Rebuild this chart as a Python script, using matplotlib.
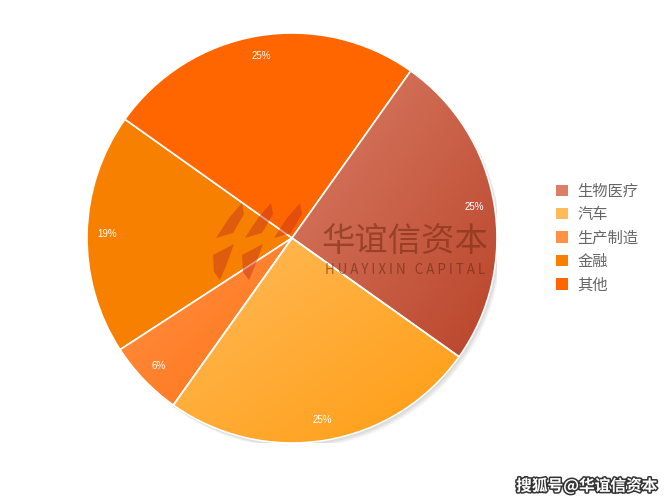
import numpy as np
import matplotlib.pyplot as plt
import matplotlib.colors as mcolors
import matplotlib.patheffects as pe
from matplotlib.patches import Wedge, Polygon

plt.rcParams['font.family'] = ['Noto Sans CJK SC', 'DejaVu Sans']

labels = ['生物医疗', '汽车', '生产制造', '金融', '其他']
shares = [25, 25, 6, 19, 25]
# (light, dark) gradient ends; equal pairs = flat colour
colors = [('#da7e66', '#b9442a'), ('#ffbb5a', '#ff9c12'), ('#ff9247', '#ff7214'),
          ('#f88000', '#f88000'), ('#ff6600', '#ff6600')]

W, H = 670, 503
fig = plt.figure(figsize=(W / 100, H / 100), dpi=100)
cx, cy, r = 292, 238, 205
ax = fig.add_axes([(cx - r) / W, 1 - (cy + r) / H, 2 * r / W, 2 * r / H])

# soft shadow
for k in range(4):
    ax.add_patch(Wedge((0.005 * (k + 1), -0.006 * (k + 1)), 1.0, 0, 360,
                       facecolor='#000000', alpha=0.045, edgecolor='none', zorder=0))

wedges, texts, autotexts = ax.pie(shares, startangle=54.6, counterclock=False,
                                  colors=[c[1] for c in colors], radius=1.0,
                                  autopct='%d%%', pctdistance=0.9,
                                  wedgeprops=dict(edgecolor='white', linewidth=1.2),
                                  textprops=dict(color='white', fontsize=7,
                                                 family='Liberation Sans'))
ax.set_aspect('equal')
ax.axis('off')

grad = np.linspace(0, 1, 200)
gx, gy = np.meshgrid(grad, grad)
g = (gx + gy) / 2
for w, (c1, c2) in zip(wedges, colors):
    if c1 == c2:
        continue
    a = np.array(mcolors.to_rgb(c1))
    b = np.array(mcolors.to_rgb(c2))
    img = a[None, None, :] * (1 - g[..., None]) + b[None, None, :] * g[..., None]
    bb = w.get_path().get_extents()
    im = ax.imshow(img, extent=(bb.x0, bb.x1, bb.y0, bb.y1), origin='upper', zorder=1.5)
    im.set_clip_path(w)
    w.set_facecolor('none')
    w.set_zorder(2)
ax.set_xlim(-1, 1)
ax.set_ylim(-1, 1)
for t in autotexts:
    t.set_zorder(5)

# legend
handles = [plt.Rectangle((0, 0), 1, 1, facecolor=c[0]) for c in colors]
fig.legend(handles, labels, loc='center left', bbox_to_anchor=(0.81, 0.527), frameon=False,
           handlelength=0.75, handleheight=0.75, handletextpad=0.6, labelspacing=0.42,
           fontsize=11, labelcolor='#666666')

# watermark logo (rough)
def px(pts):
    return [(x / W, 1 - y / H) for x, y in pts]

upper = [(242, 203), (244, 214), (233, 233), (216, 238), (229, 218)]
lower = [(213, 255), (234, 244), (226, 266), (220, 280), (214, 272)]
for dx, parts in [(0, (upper, lower)), (29, (upper, lower)), (58, (upper,))]:
    for p in parts:
        fig.patches.append(Polygon(px([(x + dx, y) for x, y in p]), closed=True,
                                   facecolor='#c8381a', alpha=0.5, edgecolor='none',
                                   transform=fig.transFigure, zorder=6))
fig.text(405 / W, 1 - 241 / H, '华谊信资本', fontsize=24, color='#7a2e14', alpha=0.6,
         ha='center', va='center', weight='medium', zorder=7)
fig.text(405 / W, 1 - 270 / H, ' '.join('HUAYIXIN CAPITAL'), fontsize=9.6,
         color='#6a2a14', alpha=0.6, ha='center', va='center', zorder=7)
fig.text(587 / W, 1 - 486 / H, '搜狐号@华谊信资本', fontsize=11.3, color='white',
         ha='center', va='center', weight='bold',
         path_effects=[pe.withStroke(linewidth=2.2, foreground='#333333')])

fig.savefig('out.png', dpi=100)
